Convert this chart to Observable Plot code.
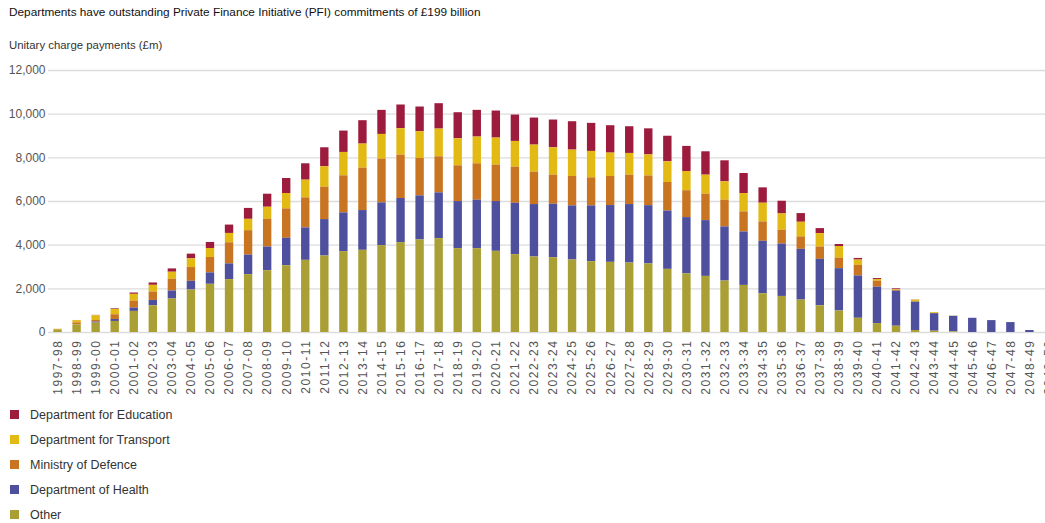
<!DOCTYPE html>
<html>
<head>
<meta charset="utf-8">
<script src="https://cdn.jsdelivr.net/npm/d3@7"></script>
<script src="https://cdn.jsdelivr.net/npm/@observablehq/plot@0.6"></script>
<style>
  html, body { margin: 0; padding: 0; background: #fff; }
  body { width: 1045px; height: 523px; overflow: hidden; position: relative; font-family: "Liberation Sans", Arial, sans-serif; }
  #title { position: absolute; left: 9px; top: 4px; font-size: 11.8px; line-height: 16px; color: #111; }
  #subtitle { position: absolute; left: 9px; top: 37px; font-size: 11.4px; line-height: 16px; color: #333; }
  #chart { position: absolute; left: 0; top: 60px; width: 1045px; overflow: hidden; }
  #chart svg { max-width: none !important; }
  #legend { position: absolute; left: 10px; top: 402px; }
  .item { display: flex; align-items: center; height: 25px; font-size: 12.5px; color: #333; }
  .sw { width: 9px; height: 9px; margin-right: 11px; }
  #chart svg g[aria-label="x-axis tick label"] text { letter-spacing: 1.6px; }
</style>
</head>
<body>
<div id="title">Departments have outstanding Private Finance Initiative (PFI) commitments of £199 billion</div>
<div id="subtitle">Unitary charge payments (£m)</div>
<div id="chart"></div>
<div id="legend"></div>
<script>
const years = ["1997-98","1998-99","1999-00","2000-01","2001-02","2002-03","2003-04","2004-05","2005-06","2006-07",
  "2007-08","2008-09","2009-10","2010-11","2011-12","2012-13","2013-14","2014-15","2015-16","2016-17",
  "2017-18","2018-19","2019-20","2020-21","2021-22","2022-23","2023-24","2024-25","2025-26","2026-27",
  "2027-28","2028-29","2029-30","2030-31","2031-32","2032-33","2033-34","2034-35","2035-36","2036-37",
  "2037-38","2038-39","2039-40","2040-41","2041-42","2042-43","2043-44","2044-45","2045-46","2046-47",
  "2047-48","2048-49","2049-50"];

const education = [0,10,15,30,61,107,153,215,276,383,
  500,597,689,750,872,979,1071,1102,1086,1132,
  1163,1193,1224,1239,1209,1239,1270,1300,1285,1255,
  1224,1193,1170,1150,1071,964,918,704,581,398,
  230,91,76,45,36,10,0,0,0,0,
  0,0,0];
const transport = [30,100,215,245,307,307,322,399,414,429,
  520,551,704,811,933,1071,1102,1132,1209,1224,
  1270,1239,1224,1239,1178,1239,1255,1209,1209,1071,
  995,965,949,880,872,841,841,857,750,673,
  612,530,242,76,30,91,45,10,0,0,
  0,0,0];
const defence = [20,90,77,215,322,383,537,629,705,966,
  1118,1270,1346,1377,1484,1698,1943,2004,1989,1714,
  1652,1637,1668,1668,1652,1484,1331,1346,1285,1331,
  1346,1360,1308,1230,1209,1224,918,887,627,566,
  566,485,485,273,40,0,0,0,0,0,
  0,0,0];
const health = [0,0,46,92,153,245,368,399,521,720,
  895,1086,1255,1484,1668,1775,1821,1958,2020,2020,
  2096,2157,2219,2280,2356,2402,2448,2479,2555,2601,
  2678,2670,2670,2578,2555,2479,2448,2402,2402,2326,
  2127,1939,1939,1667,1606,1303,803,712,651,545,
  454,91,0];
const other = [100,350,430,506,966,1226,1533,1947,2208,2422,
  2650,2830,3060,3305,3504,3703,3764,3978,4116,4238,
  4299,3840,3840,3718,3565,3458,3427,3320,3244,3213,
  3182,3140,2892,2685,2570,2356,2157,1775,1652,1484,
  1224,985,651,409,288,90,60,30,0,0,
  0,0,0];

// Legend order (top to bottom) = stack order top to bottom
const seriesNames = ["Department for Education","Department for Transport","Ministry of Defence","Department of Health","Other"];
const seriesColors = ["#9d1c3e","#e3b914","#c97420","#4e4f9d","#a99f34"];
const seriesValues = [education, transport, defence, health, other];
const yTicks = [0,2000,4000,6000,8000,10000,12000];

const data = [];
seriesNames.forEach((name, s) => {
  years.forEach((yr, i) => data.push({year: yr, series: name, value: seriesValues[s][i]}));
});

const stackOrder = seriesNames.slice().reverse(); // bottom first

const chart = Plot.plot({
  width: 1058,
  height: 334,
  marginLeft: 48,
  marginRight: 0,
  marginTop: 10,
  marginBottom: 62,
  style: {fontFamily: "'Liberation Sans', Arial, sans-serif", fontSize: "12px", color: "#555", background: "#fff", maxWidth: "none"},
  x: {type: "band", domain: years, paddingInner: 0.56, paddingOuter: 0.28, round: false, range: [48, 1058], label: null},
  y: {domain: [0, 12000], label: null},
  color: {domain: seriesNames, range: seriesColors},
  marks: [
    Plot.gridY(yTicks, {stroke: "#dcdcdc", strokeOpacity: 1, strokeWidth: 1.3}),
    Plot.barY(data, Plot.stackY({x: "year", y: "value", fill: "series", order: stackOrder})),
    Plot.axisY(yTicks, {tickSize: 0, tickPadding: 3, tickFormat: d3.format(","), fontSize: 12, fill: "#555"}),
    Plot.axisX({tickRotate: -90, tickSize: 0, tickPadding: 7, fontSize: 12, fill: "#555"})
  ]
});
document.getElementById("chart").appendChild(chart);

const legend = document.getElementById("legend");
seriesNames.forEach((name, i) => {
  const item = document.createElement("div");
  item.className = "item";
  const sw = document.createElement("span");
  sw.className = "sw";
  sw.style.background = seriesColors[i];
  const t = document.createElement("span");
  t.textContent = name;
  item.appendChild(sw);
  item.appendChild(t);
  legend.appendChild(item);
});
</script>
</body>
</html>
